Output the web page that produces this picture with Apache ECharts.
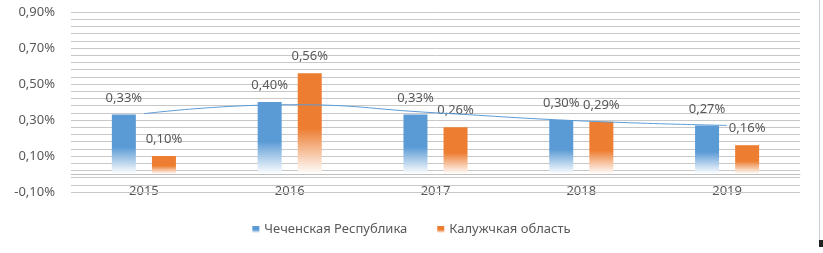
<!DOCTYPE html>
<html>
<head>
<meta charset="utf-8">
<script src="https://cdn.jsdelivr.net/npm/echarts@6/dist/echarts.min.js"></script>
<style>
  html, body { margin: 0; padding: 0; background: #fff; }
  #chart { width: 823px; height: 253px; }
</style>
</head>
<body>
<div id="chart"></div>
<script>
var years = ['2015', '2016', '2017', '2018', '2019'];
var chechnya = [0.33, 0.40, 0.33, 0.30, 0.27];
var kaluga = [0.10, 0.56, 0.26, 0.29, 0.16];
// polynomial trend line over the blue series
var trend = [0.335, 0.385, 0.34, 0.295, 0.27];
var yLabels = [-0.1, 0.1, 0.3, 0.5, 0.7, 0.9];
var seriesNames = ['Чеченская Республика', 'Калужчкая область'];

// gridlines every 0.04 starting at -0.10
var gridValues = [];
for (var i = 0; i <= 25; i++) {
    gridValues.push(Math.round((-0.1 + i * 0.04) * 100) / 100);
}

function pct(v) {
    return v.toFixed(2).replace('.', ',') + '%';
}

function fade(color) {
    return new echarts.graphic.LinearGradient(0, 0, 0, 1, [
        { offset: 0, color: color },
        { offset: 0.55, color: color },
        { offset: 1, color: 'rgba(255,255,255,0.95)' }
    ]);
}

var chart = echarts.init(document.getElementById('chart'));
var textColor = '#595959';
var option = {
    animation: false,
    textStyle: { fontFamily: 'Noto Sans' },
    grid: { left: 71, right: 23, top: 12, bottom: 61 },
    legend: {
        data: seriesNames,
        left: 'center',
        top: 218,
        icon: 'rect',
        itemWidth: 7,
        itemHeight: 7,
        itemGap: 30,
        textStyle: { color: textColor, fontSize: 13, fontFamily: 'Noto Sans' }
    },
    xAxis: {
        type: 'category',
        data: years,
        axisLine: { onZero: true, lineStyle: { color: '#bfbfbf' } },
        axisTick: { show: false },
        axisLabel: { color: textColor, fontSize: 13, margin: -7 }
    },
    yAxis: {
        type: 'value',
        min: -0.1,
        max: 0.9,
        axisLine: { show: false },
        axisTick: { show: false, customValues: yLabels },
        axisLabel: {
            customValues: yLabels,
            color: textColor,
            fontSize: 13,
            margin: 16,
            formatter: function (v) { return pct(v); }
        },
        splitLine: { show: false }
    },
    series: [
        {
            name: seriesNames[0],
            type: 'bar',
            data: chechnya,
            barWidth: 24,
            barGap: '67%',
            itemStyle: { color: fade('#5b9bd5') },
            label: {
                show: true, position: 'top', distance: 10,
                color: textColor, fontSize: 13,
                formatter: function (p) { return pct(p.value); }
            },
            z: 3
        },
        {
            name: seriesNames[1],
            type: 'bar',
            data: kaluga,
            barWidth: 24,
            itemStyle: { color: fade('#ed7d31') },
            label: {
                show: true, position: 'top', distance: 10,
                color: textColor, fontSize: 13,
                formatter: function (p) { return pct(p.value); }
            },
            z: 3
        },
        {
            name: 'trend',
            type: 'line',
            data: trend,
            smooth: true,
            symbol: 'none',
            lineStyle: { color: '#5b9bd5', width: 1 },
            z: 4,
            markLine: {
                silent: true,
                symbol: 'none',
                label: { show: false },
                lineStyle: { color: '#c8c8c8', width: 1, type: 'solid' },
                emphasis: { disabled: true },
                data: gridValues.map(function (v) { return { yAxis: v }; }),
                z: 1
            }
        }
    ],
    graphic: [
        { type: 'line', shape: { x1: 819.5, y1: 0, x2: 819.5, y2: 246 }, style: { stroke: '#d0d0d0', lineWidth: 1 } },
        { type: 'rect', shape: { x: 819, y: 240, width: 4, height: 7 }, style: { fill: '#222' } }
    ]
};
chart.setOption(option);
</script>
</body>
</html>
